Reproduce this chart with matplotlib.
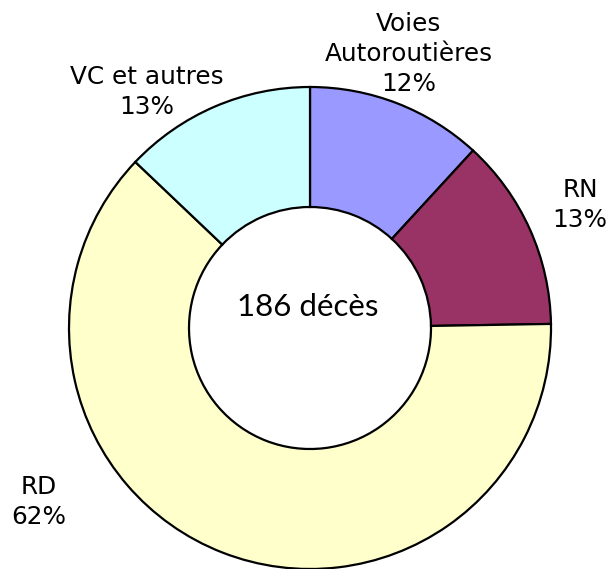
import matplotlib
matplotlib.use('Agg')
from matplotlib import pyplot as plt

categories = ['Voies\nAutoroutières', 'RN', 'RD', 'VC et autres']
deaths = [22, 24, 116, 24]
colors = ['#9999FF', '#993366', '#FFFFCC', '#CCFFFF']
total_label = '186 décès'

W, H = 606, 569
fig = plt.figure(figsize=(W / 100, H / 100), dpi=100)
ax = fig.add_axes([0, 0, 1, 1])

cx, cy, R = 310, H - 328, 241
ax.pie(deaths, colors=colors, startangle=90, counterclock=False,
       center=(cx, cy), radius=R,
       wedgeprops=dict(width=R - 121, edgecolor='black', linewidth=1.6))

# pie() resets the limits, so set them afterwards (1 unit = 1 pixel)
ax.set_xlim(0, W)
ax.set_ylim(0, H)
ax.set_aspect('equal')
ax.axis('off')

total = sum(deaths)
pct = [round(100 * d / total) for d in deaths]

# label positions (pixel coords from top-left)
label_pos = [(409, 54), (580, 205), (39, 502), (147, 92)]
for name, p, (x, y) in zip(categories, pct, label_pos):
    ax.text(x, H - y, f'{name}\n{p}%', ha='center', va='center',
            fontsize=17.8, family='DejaVu Sans', linespacing=1.32)

ax.text(cx - 2, H - 307, total_label, ha='center', va='center',
        fontsize=22.5, family='Lato')

fig.savefig('out.png', dpi=100)
